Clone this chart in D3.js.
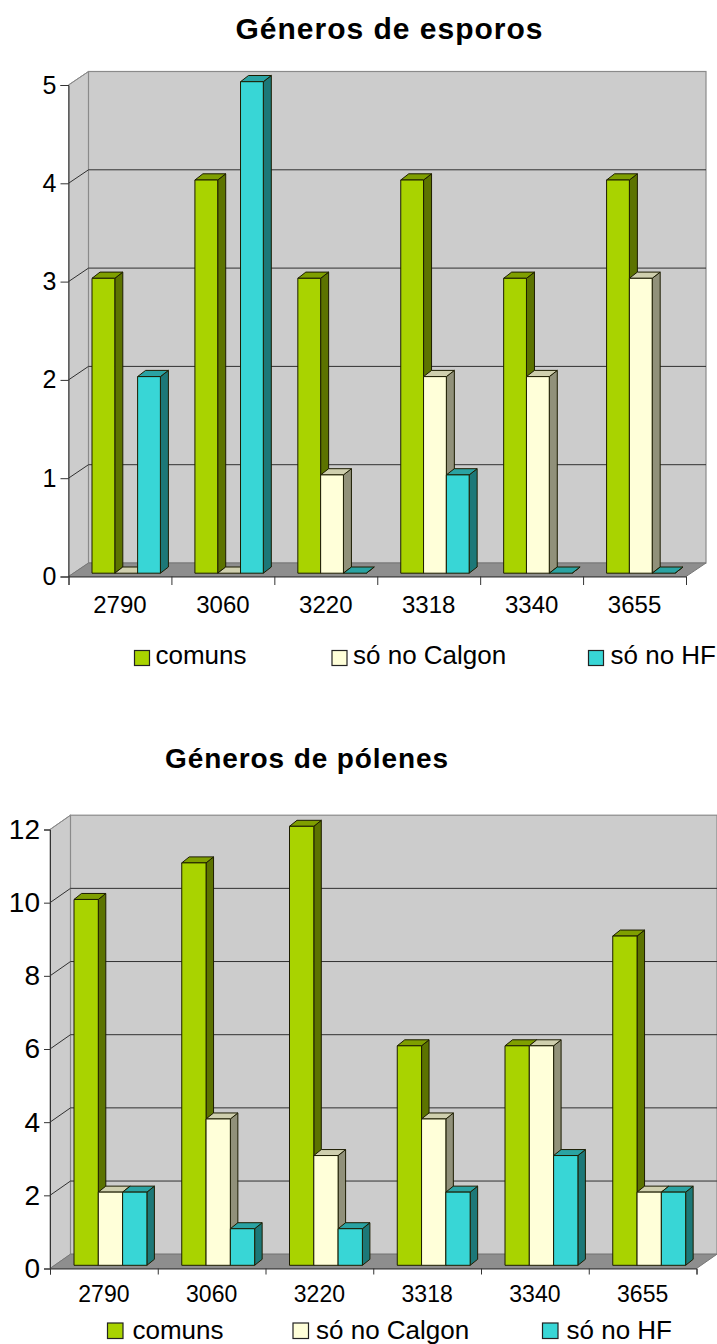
<!DOCTYPE html>
<html>
<head>
<meta charset="utf-8">
<script src="https://cdn.jsdelivr.net/npm/d3@7"></script>
<style>
  html, body { margin: 0; padding: 0; background: #fff; }
  svg { display: block; }
  text { font-family: "Liberation Sans", Arial, sans-serif; fill: #000; }
</style>
</head>
<body>
<script>
var categories = ['2790', '3060', '3220', '3318', '3340', '3655']
var seriesNames = ['comuns', 'só no Calgon', 'só no HF']

// valores
var esporosComuns = [3, 4, 3, 4, 3, 4]
var esporosCalgon = [0, 0, 1, 2, 2, 3]
var esporosHF = [2, 5, 0, 1, 0, 0]
var esporosTicks = [0, 1, 2, 3, 4, 5]

var polenesComuns = [10, 11, 12, 6, 6, 9]
var polenesCalgon = [2, 4, 3, 4, 6, 2]
var polenesHF = [2, 1, 1, 2, 3, 2]
var polenesTicks = [0, 2, 4, 6, 8, 10, 12]

var colors = [
    {front: '#a9d300', top: '#7f9f00', side: '#5c7300'},
    {front: '#ffffd9', top: '#cfcfae', side: '#91917a'},
    {front: '#38d6d6', top: '#2aa3a3', side: '#1c7878'}
]

var svg = d3.select('body').append('svg').attr('width', 717).attr('height', 1344)

function drawChart(c) {
    var g = svg.append('g')

    var y = d3.scaleLinear().domain([0, c.max]).range([c.y0, c.y1])
    var x = d3.scaleBand().domain(categories).range([c.x0, c.x1])
    var xEdges = d3.scaleLinear().domain([0, categories.length]).range([c.x0, c.x1])
    // posicao das barras dentro de cada categoria
    var xSeries = d3.scaleBand().domain(d3.range(3)).range([c.barStart, c.barStart + c.barW * 3])

    var pts = a => a.map(p => p.join(',')).join(' ')

    // paredes e chao
    g.append('polygon')
        .attr('points', pts([[c.x0, y(0)], [c.x0 + c.dx, y(0) - c.dy], [c.x0 + c.dx, y(c.max) - c.dy], [c.x0, y(c.max)]]))
        .attr('fill', '#cccccc').attr('stroke', '#8a8a8a')
    g.append('rect')
        .attr('x', c.x0 + c.dx).attr('y', y(c.max) - c.dy)
        .attr('width', c.x1 - c.x0).attr('height', y(0) - y(c.max))
        .attr('fill', '#cccccc').attr('stroke', '#8a8a8a').attr('stroke-width', 1.2)

    // grade
    c.ticks.filter(t => t > 0 && t < c.max).forEach(function(t) {
        g.append('polyline')
            .attr('points', pts([[c.x0, y(t)], [c.x0 + c.dx, y(t) - c.dy], [c.x1 + c.dx, y(t) - c.dy]]))
            .attr('fill', 'none').attr('stroke', '#303030')
    })
    g.append('line')
        .attr('x1', c.x0).attr('y1', y(c.max)).attr('x2', c.x0 + c.dx).attr('y2', y(c.max) - c.dy)
        .attr('stroke', '#8a8a8a')

    g.append('polygon')
        .attr('points', pts([[c.x0, y(0)], [c.x1, y(0)], [c.x1 + c.dx, y(0) - c.dy], [c.x0 + c.dx, y(0) - c.dy]]))
        .attr('fill', '#8e8e8e').attr('stroke', '#777')

    // eixos
    var yAxis = d3.axisLeft(y).tickValues(c.ticks).tickFormat(d3.format('d')).tickSizeOuter(0).tickSize(c.tick).tickPadding(4)
    var yG = g.append('g').attr('transform', `translate(${c.x0},0)`).call(yAxis)
    yG.selectAll('text').style('font-size', c.yFont + 'px')
    yG.selectAll('line, path').attr('stroke', '#333')

    var xLabels = d3.axisBottom(x).tickSize(0).tickPadding(c.xPad)
    var xG = g.append('g').attr('transform', `translate(0,${y(0)})`).call(xLabels)
    xG.select('.domain').remove()
    xG.selectAll('text').style('font-size', c.xFont + 'px')

    var xTicks = d3.axisBottom(xEdges).tickValues(d3.range(categories.length + 1)).tickFormat('').tickSizeOuter(0).tickSize(c.xTick)
    var xtG = g.append('g').attr('transform', `translate(0,${y(0)})`).call(xTicks)
    xtG.selectAll('line, path').attr('stroke', '#333')

    // barras
    var base = c.y0 - c.barLift
    categories.forEach(function(cat, i) {
        c.series.forEach(function(vals, s) {
            var v = vals[i]
            var x0 = x(cat) + xSeries(s)
            var x1 = x0 + c.barW
            var yTop = base - (y(0) - y(v))
            var col = colors[s]
            var bar = g.append('g').attr('stroke', '#1c1c00').attr('stroke-width', 1).attr('stroke-linejoin', 'round')
            bar.append('polygon')
                .attr('points', pts([[x1, base], [x1 + c.bx, base - c.by], [x1 + c.bx, yTop - c.by], [x1, yTop]]))
                .attr('fill', col.side)
            bar.append('polygon')
                .attr('points', pts([[x0, yTop], [x0 + c.bx, yTop - c.by], [x1 + c.bx, yTop - c.by], [x1, yTop]]))
                .attr('fill', col.top)
            if (v > 0) {
                bar.append('rect')
                    .attr('x', x0).attr('y', yTop).attr('width', c.barW).attr('height', base - yTop)
                    .attr('fill', col.front)
            }
        })
    })

    // titulo
    g.append('text')
        .attr('x', c.titleX).attr('y', c.titleY).attr('text-anchor', 'middle')
        .style('font-size', c.titleFont + 'px').style('font-weight', 'bold')
        .style('letter-spacing', c.titleSpacing + 'px')
        .text(c.title)

    // legenda
    seriesNames.forEach(function(name, s) {
        g.append('rect')
            .attr('x', c.legMark[s]).attr('y', c.legY).attr('width', c.legSize).attr('height', c.legSize)
            .attr('fill', colors[s].front).attr('stroke', '#222').attr('stroke-width', 1.2)
        g.append('text')
            .attr('x', c.legText[s]).attr('y', c.legBase)
            .style('font-size', c.legFont + 'px')
            .text(name)
    })
}

drawChart({
    title: 'Géneros de esporos', titleX: 389.5, titleY: 39, titleFont: 30, titleSpacing: 1,
    series: [esporosComuns, esporosCalgon, esporosHF], ticks: esporosTicks, max: 5,
    x0: 68.5, x1: 686, y0: 576.5, y1: 85, dx: 20, dy: 13.5,
    barStart: 23.5, barW: 22.8, barLift: 3.3, bx: 8, by: 6.2,
    tick: 8, xTick: 8.5, xPad: 19, yFont: 25, xFont: 24,
    legMark: [134.5, 332, 588.5], legText: [155.5, 353, 610.5], legY: 650.5, legSize: 15, legBase: 664, legFont: 26
})

drawChart({
    title: 'Géneros de pólenes', titleX: 307, titleY: 768, titleFont: 28, titleSpacing: 0.9,
    series: [polenesComuns, polenesCalgon, polenesHF], ticks: polenesTicks, max: 12,
    x0: 50, x1: 696.5, y0: 1268.5, y1: 829.5, dx: 20.5, dy: 14.3,
    barStart: 24, barW: 24.3, barLift: 3.2, bx: 7.5, by: 6,
    tick: 6, xTick: 6, xPad: 17, yFont: 28, xFont: 23,
    legMark: [107.5, 293, 542.5], legText: [132.5, 316, 566.5], legY: 1323, legSize: 15.5, legBase: 1339, legFont: 26
})
</script>
</body>
</html>
